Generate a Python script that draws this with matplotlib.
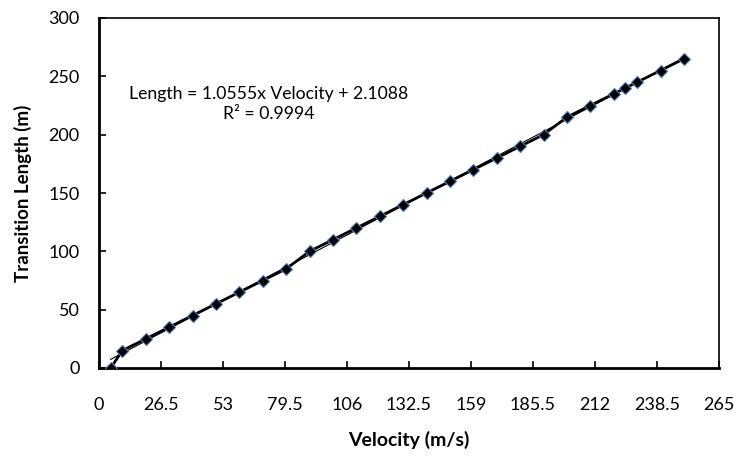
import numpy as np
import matplotlib.pyplot as plt

plt.rcParams['font.family'] = ['Lato', 'DejaVu Sans']

velocity = [5, 10, 20, 30, 40, 50, 60, 70, 80, 90, 100, 110, 120, 130, 140,
            150, 160, 170, 180, 190, 200, 210, 220, 225, 230, 240, 250]
length = [0, 15, 25, 35, 45, 55, 65, 75, 85, 100, 110, 120, 130, 140, 150,
          160, 170, 180, 190, 200, 215, 225, 235, 240, 245, 255, 265]
x_ticks = [0, 26.5, 53, 79.5, 106, 132.5, 159, 185.5, 212, 238.5, 265]
x_tick_labels = ['0', '26.5', '53', '79.5', '106', '132.5', '159', '185.5',
                 '212', '238.5', '265']
y_ticks = [0, 50, 100, 150, 200, 250, 300]

v = np.array(velocity, dtype=float)
L = np.array(length, dtype=float)
slope, intercept = 1.0555, 2.1088
fit_x = np.array([v.min(), v.max()])

fig = plt.figure(figsize=(7.34, 4.57), dpi=100)
ax = fig.add_axes([99/734, 1-368/457, (719-99)/734, (368-18)/457])

# linear trendline + data series
ax.plot(fit_x, slope*fit_x + intercept, color='black', lw=0.8, zorder=2)
ax.plot(v, L, color='black', lw=2, marker='D', markersize=6.5,
        markerfacecolor='black', markeredgecolor='#4a7ebb',
        markeredgewidth=0.8, zorder=3)

ax.set_xlim(0, 265)
ax.set_ylim(0, 300)
ax.set_xticks(x_ticks)
ax.set_xticklabels(x_tick_labels)
ax.set_yticks(y_ticks)
ax.tick_params(direction='in', length=5, width=1.2, labelsize=13)
ax.tick_params(axis='x', pad=21)
ax.tick_params(axis='y', pad=14)
for s in ax.spines.values():
    s.set_linewidth(1.2)
ax.spines['left'].set_linewidth(2)
ax.spines['bottom'].set_linewidth(2)

ax.set_xlabel('Velocity (m/s)', fontsize=14, fontweight='bold', labelpad=13)
ax.set_ylabel('Transition Length (m)', fontsize=13.5, fontweight='bold', labelpad=12)

ax.text(0.273, 0.754, 'Length = 1.0555x Velocity + 2.1088\nR² = 0.9994',
        transform=ax.transAxes, ha='center', va='center', fontsize=12.7,
        linespacing=1.35)

fig.savefig('out.png', dpi=100)
